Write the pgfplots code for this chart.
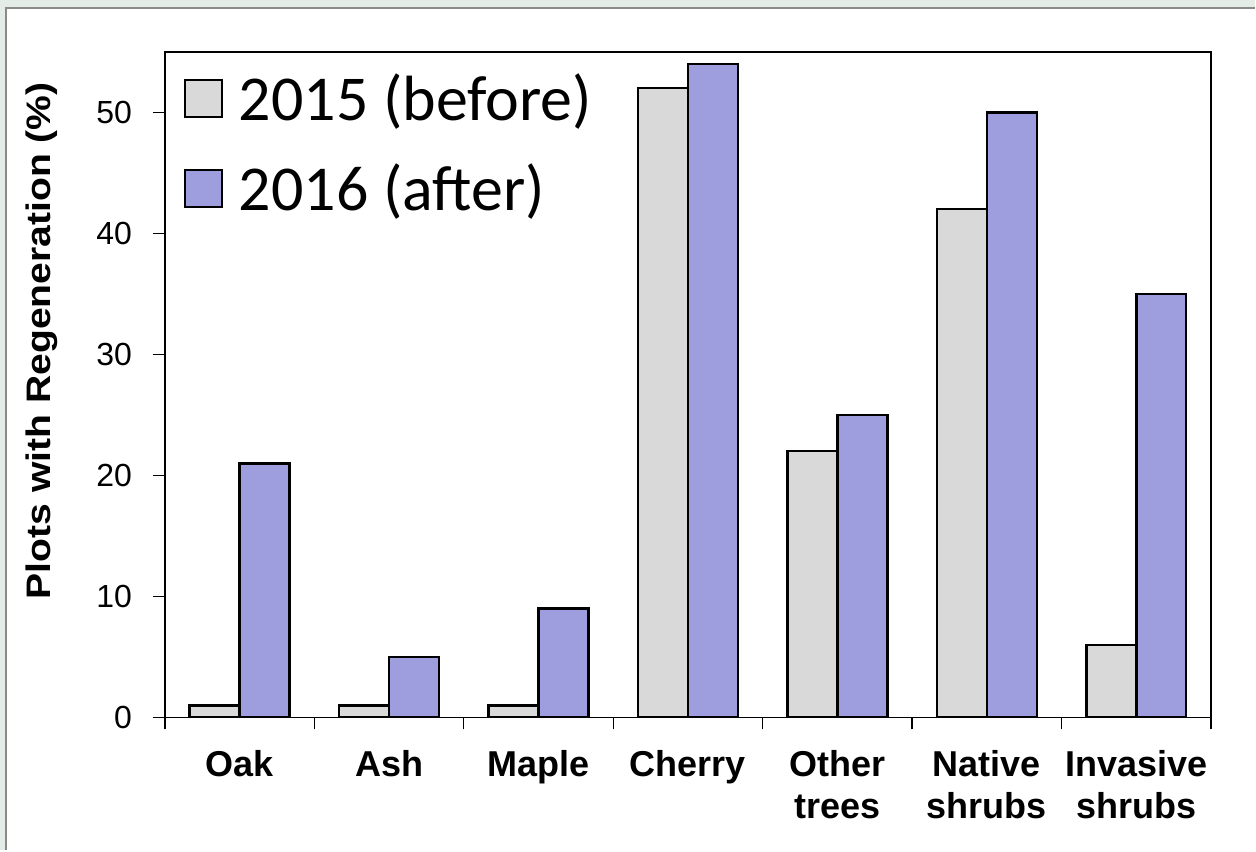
\documentclass[border=0pt]{standalone}
\usepackage{fontspec}
\setmainfont{Liberation Sans}
\newfontfamily\calibri{Carlito}
\usepackage{graphicx}
\usepackage{pgfplots}
\pgfplotsset{compat=1.18}
\definecolor{bg}{HTML}{E4ECE8}
\definecolor{framec}{HTML}{8A8A8A}
\definecolor{c15}{HTML}{D9D9D9}
\definecolor{c16}{HTML}{9E9EDE}

\begin{document}
\begin{tikzpicture}[x=1pt,y=1pt]
\fill[bg] (0,0) rectangle (628,425.5);
\fill[white] (3,0) rectangle (628,421.5);
\draw[framec, line width=1pt] (3,0) -- (3,421.5) -- (628,421.5);
\begin{axis}[
  at={(82.5pt,66.5pt)}, anchor=south west,
  scale only axis, width=523.5pt, height=333pt,
  xmin=-0.5, xmax=6.5, ymin=0, ymax=55,
  ybar=0pt, bar width=25pt,
  axis line style={black, line width=0.7pt},
  xtick={0,...,6},
  xticklabels={Oak, Ash, Maple, Cherry, Other\\trees, Native\\shrubs, Invasive\\shrubs},
  minor xtick={-0.5,0.5,...,6.5},
  ytick={0,10,...,50},
  xtick pos=left, ytick pos=left,
  tick align=outside,
  major tick length=6pt, minor tick length=6pt,
  major x tick style={draw=none},
  minor x tick style={black, line width=0.7pt},
  major y tick style={black, line width=0.7pt},
  /pgf/number format/assume math mode=true,
  yticklabel style={font=\fontsize{16}{19}\selectfont, xshift=-7pt},
  xticklabel style={font=\bfseries\fontsize{18}{21}\selectfont, align=center, anchor=north, yshift=-7pt},
  ylabel={\scalebox{1.15}[1]{Plots with Regeneration (\%)}},
  ylabel style={font=\bfseries\fontsize{17}{20}\selectfont, at={(axis description cs:-0.1175,0.566)}, anchor=center},
  legend style={at={(axis description cs:0.012,0.98)}, anchor=north west, draw=none, fill=none,
    font=\calibri\fontsize{32}{38}\selectfont, row sep=16pt},
  legend cell align=left,
  legend image code/.code={\draw[#1, line width=1pt] (0pt,-9.25pt) rectangle (18.5pt,9.25pt); \path (24.5pt,0pt);},
]
\addplot[fill=c15, draw=black, line width=1.2pt] coordinates {(0,1) (1,1) (2,1) (3,52) (4,22) (5,42) (6,6)};
\addplot[fill=c16, draw=black, line width=1.2pt] coordinates {(0,21) (1,5) (2,9) (3,54) (4,25) (5,50) (6,35)};
\legend{2015 (before), 2016 (after)}
\end{axis}
\end{tikzpicture}
\end{document}
